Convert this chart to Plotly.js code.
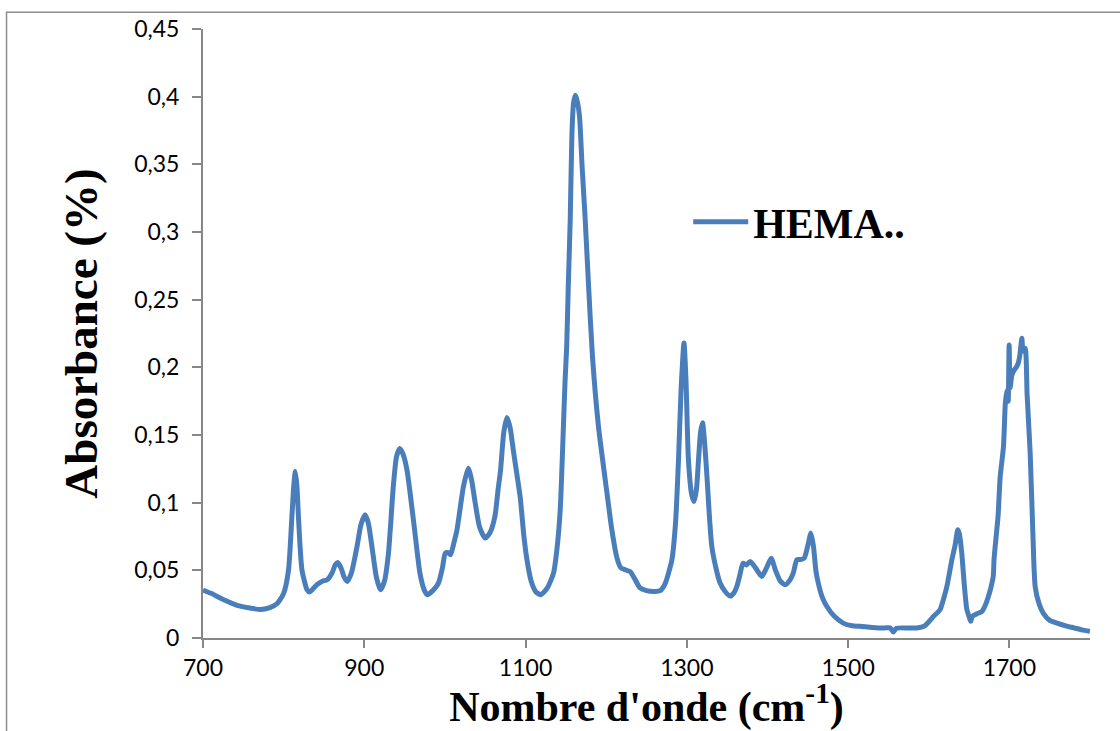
<!DOCTYPE html>
<html>
<head>
<meta charset="utf-8">
<script src="https://cdn.plot.ly/plotly-3.0.1.min.js"></script>
<style>
  html, body { margin: 0; padding: 0; background: #ffffff; }
  #chart { width: 1120px; height: 731px; }
</style>
</head>
<body>
<div id="chart"></div>
<script>
// Wavenumber (cm-1)
const wavenumber = [
  700, 710, 725, 746, 760, 771, 783, 792, 800, 806,
  810, 812.5, 814.5, 816.5, 818.6, 822.7, 829, 832, 836, 841,
  848, 854, 860, 864, 867, 871, 875, 879, 884, 891,
  896, 901, 905, 909.5, 915, 920, 925, 930, 936, 940,
  944, 948, 953, 961, 969, 974, 978, 985, 992, 997,
  1000.5, 1004, 1007, 1011, 1015, 1023, 1029, 1033, 1037.6, 1043,
  1050, 1056, 1062, 1066, 1069, 1073, 1077, 1081, 1085, 1089,
  1093.4, 1098, 1101.7, 1107, 1113, 1119, 1127, 1134.7, 1139, 1143,
  1146, 1149, 1151, 1153, 1155.4, 1157.5, 1159.5, 1161.7, 1164, 1167,
  1170, 1174, 1178, 1183, 1190.5, 1201, 1207, 1213, 1218, 1223.6,
  1229.8, 1236, 1242, 1250, 1260.8, 1267, 1273, 1281.5, 1286, 1289.7,
  1293, 1296.5, 1299, 1302, 1306, 1309, 1312, 1314.5, 1317, 1319.5,
  1322, 1325, 1328, 1331, 1336, 1341, 1348, 1354, 1358, 1362,
  1366, 1369.6, 1374, 1378.6, 1385, 1393, 1399, 1404.6, 1410, 1416,
  1422, 1428, 1432, 1436.5, 1441, 1445.6, 1450, 1453.9, 1457, 1460,
  1463, 1468, 1473.7, 1483, 1494, 1505, 1515, 1530, 1545, 1552,
  1556, 1560, 1575, 1585, 1595, 1606, 1614, 1618, 1622.5, 1628.7,
  1632.8, 1636, 1638, 1641, 1644, 1647.3, 1650, 1652, 1654, 1660,
  1666, 1670, 1674, 1677, 1680, 1681, 1683.6, 1686, 1688.6, 1692.7,
  1695, 1697, 1698.5, 1699.7, 1701, 1703, 1706, 1709, 1711, 1713,
  1715.5, 1717, 1719.6, 1722, 1725.8, 1729, 1732, 1737, 1742, 1750,
  1759, 1770, 1780, 1790, 1800
];
// Absorbance (%)
const absorbance = [
  0.0355, 0.033, 0.0285, 0.0235, 0.022, 0.021, 0.0225, 0.0255, 0.033, 0.050,
  0.087, 0.112, 0.123, 0.112, 0.087, 0.0504, 0.0357, 0.034, 0.036, 0.0393,
  0.042, 0.043, 0.048, 0.054, 0.0558, 0.052, 0.045, 0.0418, 0.048, 0.0676,
  0.084, 0.091, 0.085, 0.0676, 0.045, 0.0357, 0.042, 0.0627, 0.112, 0.134,
  0.140, 0.136, 0.124, 0.087, 0.048, 0.036, 0.032, 0.035, 0.0406, 0.052,
  0.0627, 0.063, 0.0615, 0.070, 0.080, 0.112, 0.1255, 0.117, 0.0997, 0.082,
  0.0738, 0.078, 0.0898, 0.110, 0.124, 0.152, 0.163, 0.155, 0.138, 0.122,
  0.104, 0.075, 0.058, 0.042, 0.034, 0.032, 0.037, 0.048, 0.066, 0.0947,
  0.14, 0.19, 0.215, 0.26, 0.309, 0.372, 0.395, 0.401, 0.397, 0.385,
  0.35, 0.309, 0.262, 0.208, 0.156, 0.107, 0.080, 0.060, 0.052, 0.0504,
  0.049, 0.043, 0.037, 0.035, 0.0344, 0.035, 0.040, 0.0578, 0.085, 0.1316,
  0.185, 0.218, 0.19, 0.1316, 0.106, 0.1008, 0.110, 0.1316, 0.152, 0.159,
  0.145, 0.119, 0.09, 0.0676, 0.052, 0.041, 0.034, 0.031, 0.033, 0.038,
  0.047, 0.0553, 0.054, 0.0566, 0.052, 0.0455, 0.052, 0.059, 0.050, 0.042,
  0.0393, 0.043, 0.048, 0.0578, 0.058, 0.059, 0.068, 0.0775, 0.068, 0.050,
  0.0406, 0.030, 0.0233, 0.016, 0.011, 0.009, 0.0086, 0.0078, 0.0074, 0.0075,
  0.0045, 0.0072, 0.0074, 0.0074, 0.009, 0.016, 0.0209, 0.028, 0.038, 0.0578,
  0.0689, 0.080, 0.077, 0.0627, 0.040, 0.0209, 0.016, 0.0123, 0.016, 0.018,
  0.0196, 0.024, 0.0307, 0.037, 0.0455, 0.058, 0.075, 0.090, 0.119, 0.1414,
  0.1735, 0.183, 0.175, 0.2165, 0.185, 0.194, 0.198, 0.2005, 0.203, 0.209,
  0.2214, 0.212, 0.214, 0.18, 0.1366, 0.080, 0.038, 0.025, 0.0184, 0.013,
  0.011, 0.009, 0.0075, 0.006, 0.0049
];
const seriesName = "HEMA..";
const xTickVals = [700, 900, 1100, 1300, 1500, 1700];
const xTickText = ["700", "900", "1100", "1300", "1500", "1700"];
const yTickVals = [0, 0.05, 0.1, 0.15, 0.2, 0.25, 0.3, 0.35, 0.4, 0.45];
const yTickText = ["0", "0,05", "0,1", "0,15", "0,2", "0,25", "0,3", "0,35", "0,4", "0,45"];

const axisGrey = "#878787";
const tickFont = { family: "Lato, 'Open Sans', sans-serif", size: 23, color: "#000000" };
const serif = "'Liberation Serif', 'DejaVu Serif', serif";

const trace = {
  x: wavenumber,
  y: absorbance,
  type: "scatter",
  mode: "lines",
  name: seriesName,
  line: { color: "#4a7ebb", width: 5, shape: "spline", smoothing: 0.6 },
  hoverinfo: "x+y"
};

const layout = {
  width: 1120,
  height: 731,
  margin: { l: 203, r: 30, t: 29, b: 93, pad: 0 },
  paper_bgcolor: "#ffffff",
  plot_bgcolor: "#ffffff",
  showlegend: true,
  legend: {
    x: 0.547, y: 0.683, xanchor: "left", yanchor: "middle",
    bgcolor: "rgba(0,0,0,0)",
    itemwidth: 55,
    font: { family: serif, size: 42, color: "#000000", weight: "bold" }
  },
  xaxis: {
    range: [700, 1800],
    tickvals: xTickVals,
    ticktext: xTickText,
    ticks: "outside", ticklen: 8, tickwidth: 2, tickcolor: axisGrey,
    showline: true, linecolor: axisGrey, linewidth: 2,
    showgrid: false, zeroline: false,
    tickfont: tickFont,
    title: { text: "Nombre d'onde (cm<sup>-1</sup>)", font: { family: serif, size: 42, color: "#000000", weight: "bold" }, standoff: 12 },
    automargin: false
  },
  yaxis: {
    range: [0, 0.45],
    tickvals: yTickVals,
    ticktext: yTickText,
    ticks: "outside", ticklen: 9, tickwidth: 2, tickcolor: axisGrey,
    ticklabelstandoff: 8,
    showline: true, linecolor: axisGrey, linewidth: 2,
    showgrid: false, zeroline: false,
    tickfont: tickFont,
    title: { text: "Absorbance (%)", font: { family: serif, size: 47, color: "#000000", weight: "bold" }, standoff: 22 },
    automargin: false
  },
  shapes: [{
    type: "rect", xref: "paper", yref: "paper",
    x0: -0.2215, x1: 1.05, y0: -0.2, y1: 1.0274,
    line: { color: "#8c8c8c", width: 1.5 },
    fillcolor: "rgba(0,0,0,0)",
    layer: "below"
  }]
};

Plotly.newPlot("chart", [trace], layout, { displayModeBar: false });
</script>
</body>
</html>
